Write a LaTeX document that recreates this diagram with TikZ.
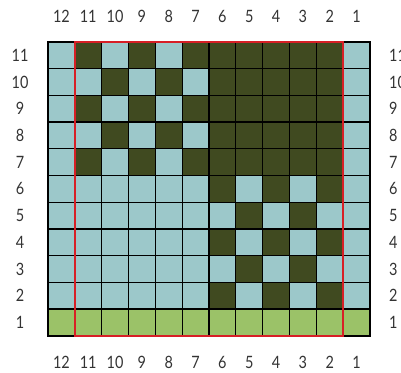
\documentclass[tikz,border=0pt]{standalone}
\usepackage{fontspec}
\setmainfont[FakeStretch=0.85]{Lato}
\definecolor{lightc}{HTML}{9CC8CA}
\definecolor{darkc}{HTML}{404A20}
\definecolor{greenc}{HTML}{9BC268}
\definecolor{redc}{HTML}{D71F26}
\definecolor{txt}{HTML}{333333}
\begin{document}
\begin{tikzpicture}[x=1pt,y=1pt,
  lbl/.style={font=\fontsize{17}{17}\selectfont, text=txt, inner sep=0pt},
  gridline/.style={black, line width=1.3pt},
  border/.style={black, line width=2pt},
  redframe/.style={redc, line width=2pt}]
\useasboundingbox (0,0) rectangle (401,372);
\begin{scope}[shift={(48pt,36.3pt)}, x=26.83pt, y=26.7pt]
  \foreach \r in {1,...,11}{
    \foreach \C in {1,...,12}{
      \pgfmathtruncatemacro{\xx}{12-\C}
      \pgfmathtruncatemacro{\k}{\r==1 ? 0 : ((\C==1 || \C==12) ? 1 : (((\r>=7 && \C<=6) || (mod(\r+\C,2)==0 && (\r>=7 || \C<=6))) ? 2 : 1))}
      \ifcase\k\def\cc{greenc}\or\def\cc{lightc}\or\def\cc{darkc}\fi
      \fill[\cc] (\xx,\r-1) rectangle ++(1,1);
    }
  }
  \foreach \i in {1,...,11} \draw[gridline] (\i,0) -- (\i,11);
  \foreach \j in {1,...,10} \draw[gridline] (0,\j) -- (12,\j);
  \draw[border] (0,0) rectangle (12,11);
  \draw[redframe] (1,0) rectangle (11,11);
\end{scope}
\foreach \C in {1,...,12}{
  \pgfmathsetmacro{\xc}{48+26.83*(12-\C+0.5)}
  \node[lbl] (top\C) at (\xc,356) {\C};
  \node[lbl] (bot\C) at (\xc,10) {\C};
}
\foreach \r in {1,...,11}{
  \pgfmathsetmacro{\yc}{36.3+26.7*(\r-0.5)}
  \node[lbl] (left\r) at (20,\yc) {\r};
  \node[lbl, anchor=west] (right\r) at (389,\yc) {\r};
}
\end{tikzpicture}
\end{document}
